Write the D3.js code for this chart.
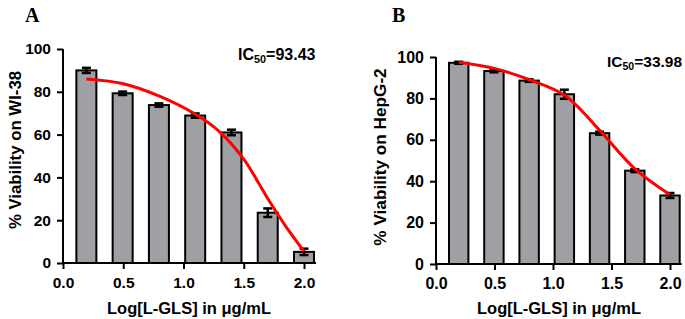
<!DOCTYPE html>
<html><head><meta charset="utf-8">
<script src="https://cdn.jsdelivr.net/npm/d3@7"></script>
<style>body{margin:0;background:#fff}svg{display:block}</style>
</head><body>
<script>
// ---- data ----
const logDoses = [0.194, 0.495, 0.796, 1.097, 1.398, 1.699, 2.0];
const viabilityA = [90, 79.3, 73.8, 68.9, 61, 23.5, 5.2];
const errorA = [1.2, 0.8, 0.8, 1.0, 1.3, 2.0, 1.5];
const fitXA = [0.194, 0.5, 0.8, 1.1, 1.3, 1.5, 1.7, 1.85, 2.0];
const fitYA = [86, 83.8, 78, 69.5, 61.3, 48.5, 30, 17, 5.5];
const viabilityB = [97.2, 93.2, 88.6, 82, 63.2, 45.1, 33.1];
const errorB = [0.5, 0.6, 0.6, 2.2, 0.7, 0.7, 1.2];
const fitXB = [0.194, 0.5, 0.8, 1.1, 1.4, 1.7, 2.0];
const fitYB = [97.5, 94.5, 89, 81.5, 64.5, 46, 33.5];
const yTicks = [0, 20, 40, 60, 80, 100];
const xTicks = [0, 0.5, 1.0, 1.5, 2.0];
const xTitle = "Log[L-GLS] in \u03bcg/mL";

const W = 685, H = 319;
const FONT = "Liberation Sans, Arial, sans-serif";
const svg = d3.select("body").append("svg").attr("width", W).attr("height", H);

function panel(opt) {
  const g = svg.append("g");
  const x = d3.scaleLinear().domain([0, 2.1]).range([opt.x0, opt.x0 + 2.1 * opt.ux]);
  const y = d3.scaleLinear().domain([0, 100]).range([opt.y0, opt.y100]);
  const bw = x(0.166) - x(0);

  // bars
  g.selectAll("rect.bar").data(opt.vals).enter().append("rect")
    .attr("x", (d, i) => x(logDoses[i]) - bw / 2)
    .attr("y", d => y(d))
    .attr("width", bw)
    .attr("height", d => y(0) - y(d))
    .attr("fill", "#a0a0a4").attr("stroke", "#000").attr("stroke-width", 2);

  // error bars
  const eb = g.selectAll("g.eb").data(opt.vals).enter().append("g");
  eb.append("line")
    .attr("x1", (d, i) => x(logDoses[i])).attr("x2", (d, i) => x(logDoses[i]))
    .attr("y1", (d, i) => y(d + opt.err[i])).attr("y2", (d, i) => y(d - opt.err[i]))
    .attr("stroke", "#000").attr("stroke-width", 2.5);
  [1, -1].forEach(s => {
    eb.append("line")
      .attr("x1", (d, i) => x(logDoses[i]) - 4.5).attr("x2", (d, i) => x(logDoses[i]) + 4.5)
      .attr("y1", (d, i) => y(d + s * opt.err[i])).attr("y2", (d, i) => y(d + s * opt.err[i]))
      .attr("stroke", "#000").attr("stroke-width", 2.5);
  });

  // fit curve
  const line = d3.line().x(d => x(d[0])).y(d => y(d[1])).curve(d3.curveCatmullRom.alpha(0.5));
  g.append("path").datum(opt.fx.map((v, i) => [v, opt.fy[i]]))
    .attr("d", line).attr("fill", "none").attr("stroke", "#ff0000").attr("stroke-width", 3);

  // axes
  const yAx = g.append("g").attr("transform", `translate(${opt.x0},0)`)
    .call(d3.axisLeft(y).tickValues(yTicks).tickSize(6).tickPadding(6).tickFormat(d3.format("d")));
  const xAx = g.append("g").attr("transform", `translate(0,${opt.y0})`)
    .call(d3.axisBottom(x).tickValues(xTicks).tickSize(6).tickPadding(8).tickFormat(d3.format(".1f")));
  [yAx, xAx].forEach(a => {
    a.select(".domain").attr("stroke", "#000").attr("stroke-width", 2);
    a.selectAll(".tick line").attr("stroke", "#000").attr("stroke-width", 2);
    a.selectAll("text").attr("font-family", FONT)
      .attr("font-weight", "bold").attr("font-size", opt.tickFs).attr("fill", "#000");
  });
  yAx.select(".domain").attr("d", `M0,${opt.y0}V${opt.y100}`);
  xAx.select(".domain").attr("d", `M${x(0)},0H${x(2.1)}`);

  // titles
  g.append("text").attr("x", opt.xtx).attr("y", 314).attr("text-anchor", "middle")
    .attr("font-family", FONT).attr("font-size", 16.5)
    .attr("font-weight", "bold").text(xTitle);
  g.append("text").attr("transform", `translate(${opt.ytx},${opt.yty}) rotate(-90)`)
    .attr("text-anchor", "middle").attr("dy", "0.35em").attr("font-family", FONT)
    .attr("font-size", opt.ytFs).attr("font-weight", "bold").text(opt.yTitle);
  g.append("text").attr("x", opt.lx).attr("y", 22)
    .attr("font-family", "Liberation Serif, Times New Roman, serif").attr("font-size", 20)
    .attr("font-weight", "bold").text(opt.letter);
  const ic = g.append("text").attr("x", opt.icx).attr("y", opt.icy)
    .attr("font-family", FONT).attr("font-size", opt.icFs).attr("font-weight", "bold");
  ic.append("tspan").text("IC");
  ic.append("tspan").attr("font-size", opt.icFs * 0.68).attr("dy", 3).text("50");
  ic.append("tspan").attr("dy", -3).text("=" + opt.ic);
}

panel({x0: 63, ux: 120.5, y0: 263, y100: 49, vals: viabilityA, err: errorA, fx: fitXA, fy: fitYA,
  tickFs: 15.5, xtx: 189, yTitle: "% Viability on WI-38", ytx: 15, yty: 150, ytFs: 16.8,
  letter: "A", lx: 25, icx: 238, icy: 60, icFs: 16, ic: "93.43"});
panel({x0: 436, ux: 117, y0: 264, y100: 57, vals: viabilityB, err: errorB, fx: fitXB, fy: fitYB,
  tickFs: 16, xtx: 559, yTitle: "% Viability on HepG-2", ytx: 380, yty: 157, ytFs: 17.2,
  letter: "B", lx: 392, icx: 607, icy: 67, icFs: 15.5, ic: "33.98"});
</script>
</body></html>
